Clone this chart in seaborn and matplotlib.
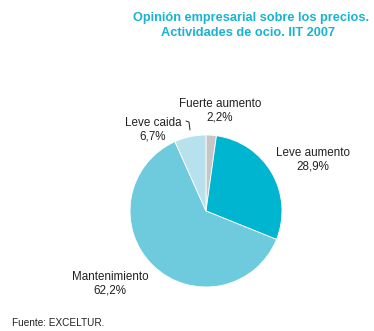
import matplotlib
matplotlib.use("Agg")
import matplotlib.pyplot as plt
import seaborn as sns

categories = ["Fuerte aumento", "Leve aumento", "Mantenimiento", "Leve caida"]
shares = [2.2, 28.9, 62.2, 6.7]
value_labels = ["2,2%", "28,9%", "62,2%", "6,7%"]
colors = ["#c6c6c6", "#00b5d0", "#6ecadd", "#b8e1ee"]

sns.set_theme(style="white")
plt.rcParams["font.family"] = ["Liberation Sans", "DejaVu Sans"]

W, H = 374, 331
fig = plt.figure(figsize=(W / 100, H / 100), dpi=100)
ax = fig.add_axes([0, 0, 1, 1])

cx, cy, r = 206, H - 211, 76
ax.pie(shares, colors=sns.color_palette(colors), startangle=90, counterclock=False,
       center=(cx, cy), radius=r, frame=True,
       wedgeprops=dict(edgecolor="white", linewidth=0.6))
ax.set_xlim(0, W)
ax.set_ylim(0, H)
ax.set_aspect("equal")
ax.axis("off")

label_pos = [(220, H - 111), (313, H - 160), (110, H - 284), (153, H - 130)]
for name, val, (x, y) in zip(categories, value_labels, label_pos):
    ax.text(x, y, f"{name}\n{val}", ha="center", va="center", fontsize=8.4,
            color="#222222", linespacing=1.2)

# small leader line for the narrow "Leve caida" slice
ax.plot([186, 189, 190], [H - 121, H - 122, H - 130], color="#222222", lw=0.7)

fig.text(251 / W, 1 - 18 / H, "Opinión empresarial sobre los precios.",
         ha="center", va="center", fontsize=9.2, fontweight="bold", color="#17b3d1")
fig.text(248 / W, 1 - 33 / H, "Actividades de ocio. IIT 2007",
         ha="center", va="center", fontsize=9.2, fontweight="bold", color="#17b3d1")
fig.text(12 / W, 1 - 323 / H, "Fuente: EXCELTUR.", ha="left", va="center",
         fontsize=7.2, color="#222222")

fig.savefig("out.png", dpi=100)
